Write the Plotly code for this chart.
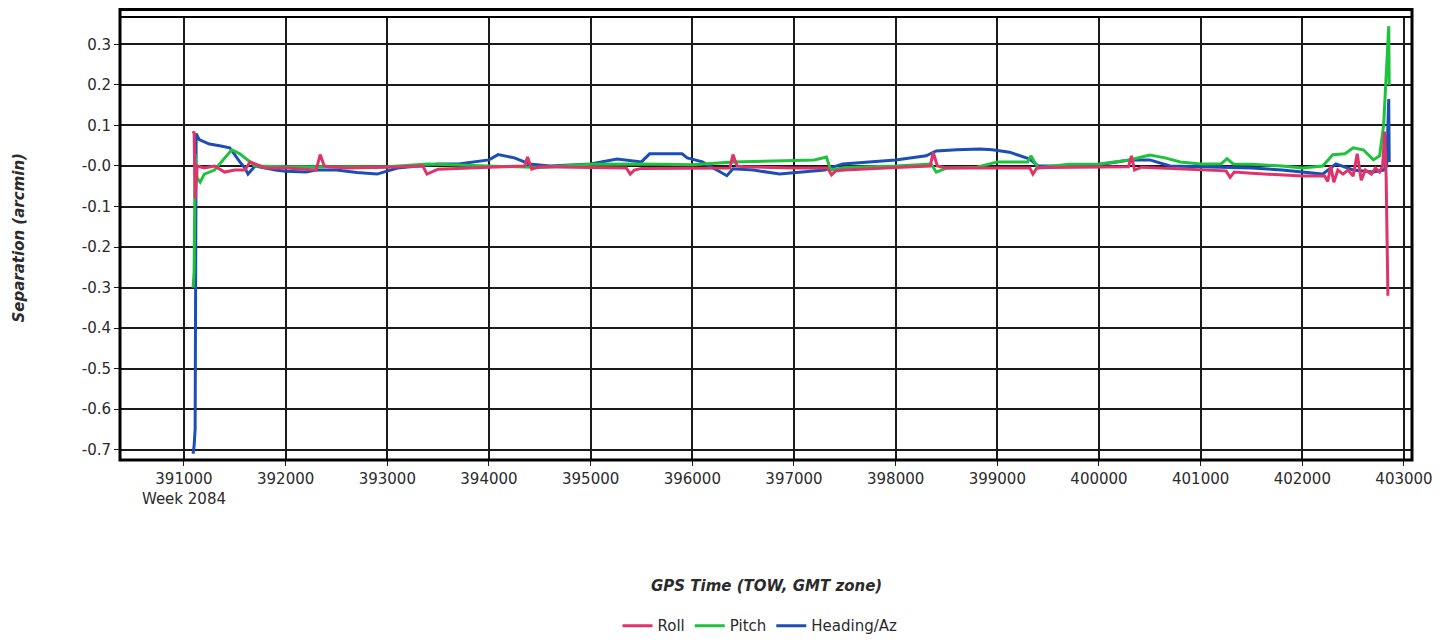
import plotly.graph_objects as go

# --- DATA ---
ROLL_X = [391090, 391100, 391110, 391130, 391200, 391300, 391400, 391500, 391600, 391650, 391700,
          391800, 392000, 392300, 392340, 392380, 392420, 392600, 393000, 393350, 393390, 393430,
          393500, 394000, 394350, 394380, 394420, 394500, 395000, 395350, 395390, 395430, 395500,
          396000, 396370, 396400, 396440, 396500, 397000, 397330, 397370, 397410, 397500, 398000,
          398340, 398370, 398410, 398500, 399000, 399320, 399350, 399390, 399500, 400000, 400290,
          400320, 400350, 400420, 401000, 401250, 401290, 401330, 401500, 401880, 402000, 402220,
          402250, 402280, 402310, 402350, 402400, 402450, 402500, 402540, 402580, 402620, 402680,
          402720, 402760, 402790, 402810, 402825, 402835, 402842]
ROLL_Y = [0.08, 0.085, -0.08, 0.0, -0.005, 0.0, -0.015, -0.01, -0.01, 0.01, 0.005,
          -0.005, -0.005, -0.01, 0.028, 0.0, -0.002, -0.005, -0.003, 0.0, -0.02, -0.015,
          -0.008, -0.003, 0.0, 0.022, -0.008, -0.002, -0.003, -0.005, -0.02, -0.01, -0.006,
          -0.005, -0.005, 0.028, 0.0, -0.002, -0.005, -0.005, -0.022, -0.012, -0.01, -0.004,
          0.0, 0.034, 0.0, -0.005, -0.005, -0.005, -0.02, -0.005, -0.004, -0.003, -0.002,
          0.025, -0.01, -0.003, -0.01, -0.012, -0.028, -0.015, -0.018, -0.024, -0.025, -0.025,
          -0.038, 0.0, -0.04, -0.01, -0.02, -0.01, -0.025, 0.03, -0.035, -0.01, -0.02,
          -0.005, -0.015, 0.0, 0.085, -0.03, -0.15, -0.32]

PITCH_X = [391090, 391100, 391110, 391130, 391160, 391200, 391300, 391400, 391470, 391550, 391600,
           391700, 392000, 392500, 393000, 393400, 394000, 394500, 395000, 395500, 396000, 396400,
           396800, 397200, 397320, 397360, 397500, 398000, 398350, 398400, 398500, 398800, 399000,
           399300, 399330, 399400, 399700, 400000, 400300, 400500, 400650, 400800, 401000, 401200,
           401260, 401320, 401500, 401800, 402000, 402200, 402300, 402420, 402500, 402600, 402700,
           402760, 402800, 402830, 402850, 402855]
PITCH_Y = [-0.3, -0.26, 0.03, -0.03, -0.04, -0.02, -0.01, 0.02, 0.04, 0.03, 0.02,
           0.0, -0.002, -0.002, -0.002, 0.005, 0.0, -0.004, 0.004, 0.005, 0.003, 0.01,
           0.012, 0.015, 0.022, -0.01, -0.004, 0.0, 0.005, -0.015, -0.005, -0.003, 0.01,
           0.01, 0.025, -0.005, 0.004, 0.005, 0.015, 0.027, 0.02, 0.01, 0.005, 0.005,
           0.018, 0.005, 0.004, 0.0, -0.005, 0.0, 0.028, 0.03, 0.045, 0.04, 0.015,
           0.025, 0.1, 0.23, 0.345, 0.2]

HEADING_X = [391090, 391100, 391110, 391120, 391150, 391250, 391350, 391450, 391550, 391600, 391630,
             391700, 391900, 392000, 392200, 392300, 392500, 392700, 392900, 393100, 393300, 393500,
             393700, 394000, 394090, 394250, 394400, 394600, 395000, 395260, 395500, 395580, 395900,
             395950, 396100, 396340, 396400, 396600, 396860, 397100, 397300, 397480, 397800, 398000,
             398300, 398400, 398600, 398830, 398950, 399120, 399320, 399400, 399700, 400000, 400300,
             400500, 400700, 401000, 401300, 401500, 401800, 402000, 402200, 402330, 402500, 402700,
             402800, 402830, 402850, 402855]
HEADING_Y = [-0.71, -0.69, -0.65, 0.08, 0.065, 0.054, 0.05, 0.045, 0.01, -0.005, -0.02,
             0.0, -0.01, -0.013, -0.015, -0.01, -0.01, -0.016, -0.02, -0.005, 0.0, 0.005,
             0.005, 0.015, 0.028, 0.02, 0.005, 0.0, 0.005, 0.017, 0.01, 0.03, 0.03,
             0.02, 0.01, -0.024, -0.007, -0.01, -0.02, -0.015, -0.01, 0.005, 0.01, 0.015,
             0.025, 0.037, 0.04, 0.042, 0.04, 0.034, 0.017, 0.0, 0.0, 0.003, 0.015,
             0.015, 0.0, -0.002, -0.005, -0.005, -0.01, -0.015, -0.02, 0.005, -0.01, -0.015,
             -0.01, 0.0, 0.165, 0.01]

X_TICKS = [391000, 392000, 393000, 394000, 395000, 396000, 397000, 398000, 399000,
           400000, 401000, 402000, 403000]
X_TICK_LABELS = ["391000<br>Week 2084"] + [str(v) for v in X_TICKS[1:]]
Y_TICKS = [0.3, 0.2, 0.1, 0.0, -0.1, -0.2, -0.3, -0.4, -0.5, -0.6, -0.7]
Y_TICK_LABELS = ["0.3", "0.2", "0.1", "-0.0", "-0.1", "-0.2", "-0.3", "-0.4", "-0.5", "-0.6", "-0.7"]

FONT = "DejaVu Sans, Liberation Sans, sans-serif"
TXT = "#2b2b2b"

fig = go.Figure()

# heading first, roll on top
for name, xs, ys, col in [
    ("Heading/Az", HEADING_X, HEADING_Y, "#1c4fb5"),
    ("Pitch", PITCH_X, PITCH_Y, "#1fc23c"),
    ("Roll", ROLL_X, ROLL_Y, "#e0336a"),
]:
    fig.add_trace(go.Scatter(x=xs, y=ys, mode="lines", name=name,
                             line=dict(color=col, width=3)))

fig.update_xaxes(
    range=[390371, 403079], tickvals=X_TICKS, ticktext=X_TICK_LABELS,
    showgrid=True, gridcolor="#1a1a1a", gridwidth=1.5, zeroline=False,
    ticks="outside", ticklen=5, tickcolor="#1a1a1a", showline=False,
    tickfont=dict(family=FONT, size=15, color=TXT),
)
fig.update_yaxes(
    range=[-0.7255, 0.3676], tickvals=Y_TICKS, ticktext=Y_TICK_LABELS,
    showgrid=True, gridcolor="#1a1a1a", gridwidth=1.5, zeroline=False,
    ticks="outside", ticklen=5, tickcolor="#1a1a1a", showline=False,
    tickfont=dict(family=FONT, size=15, color=TXT),
)

# frame with header strip (kept inside the figure's top edge)
fig.add_shape(type="rect", xref="paper", yref="paper", x0=0, x1=1, y0=0, y1=1 + 7.5 / 446,
              line=dict(color="black", width=3), fillcolor="rgba(0,0,0,0)")
fig.add_shape(type="line", xref="paper", yref="paper", x0=0, x1=1, y0=1, y1=1,
              line=dict(color="black", width=2))

fig.add_annotation(text="<b><i>GPS Time (TOW, GMT zone)</i></b>", xref="paper", yref="paper",
                   x=(766 - 120) / 1292, y=(463 - 590) / 446, showarrow=False, yanchor="middle",
                   font=dict(family=FONT, size=15, color=TXT))
fig.add_annotation(text="<b><i>Separation (arcmin)</i></b>", xref="paper", yref="paper",
                   x=(18 - 120) / 1292, y=(463 - 240) / 446, showarrow=False, textangle=-90,
                   xanchor="center", yanchor="middle",
                   font=dict(family=FONT, size=15, color=TXT))

# page body adds an 8px offset, so margins are shifted by 8
fig.update_layout(
    width=1450, height=643,
    margin=dict(l=112, r=46, t=9, b=188),
    plot_bgcolor="white", paper_bgcolor="white",
    showlegend=True,
    legend=dict(orientation="h", x=(760 - 120) / 1292, xanchor="center", y=(463 - 630) / 446,
                yanchor="middle", traceorder="reversed",
                font=dict(family=FONT, size=15, color=TXT), itemwidth=30),
)

fig.write_html("out.html")
